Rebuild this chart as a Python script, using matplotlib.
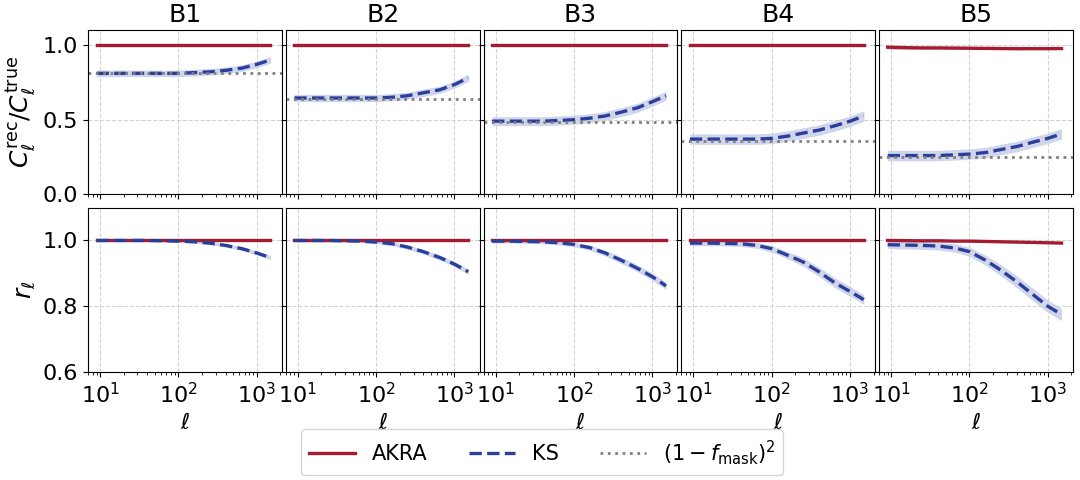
import numpy as np
import matplotlib.pyplot as plt

# multipole grid
ell = [9, 15, 25, 40, 65, 100, 160, 250, 400, 650, 1000, 1500]

bins = ["B1", "B2", "B3", "B4", "B5"]
f_mask_term = [0.81, 0.64, 0.485, 0.36, 0.25]

# C_rec / C_true, KS
ks_ratio = {
    "B1": [0.81, 0.81, 0.81, 0.81, 0.81, 0.81, 0.815, 0.82, 0.83, 0.845, 0.87, 0.90],
    "B2": [0.645, 0.645, 0.645, 0.645, 0.645, 0.645, 0.65, 0.66, 0.68, 0.70, 0.735, 0.78],
    "B3": [0.49, 0.49, 0.49, 0.49, 0.495, 0.50, 0.51, 0.525, 0.55, 0.58, 0.62, 0.66],
    "B4": [0.37, 0.37, 0.37, 0.37, 0.37, 0.375, 0.39, 0.41, 0.43, 0.46, 0.49, 0.525],
    "B5": [0.26, 0.26, 0.26, 0.26, 0.265, 0.27, 0.28, 0.30, 0.32, 0.35, 0.375, 0.405],
}
ks_ratio_err = {
    "B1": [0.022] * 12,
    "B2": [0.024] * 12,
    "B3": [0.03] * 12,
    "B4": [0.035] * 12,
    "B5": [0.035] * 12,
}
akra_ratio = {
    "B1": [1.0] * 12,
    "B2": [1.0] * 12,
    "B3": [1.0] * 12,
    "B4": [1.0] * 12,
    "B5": [0.985, 0.982, 0.98, 0.98, 0.979, 0.978, 0.977, 0.976, 0.975, 0.975, 0.975, 0.976],
}
akra_ratio_err = {
    "B1": [0.002] * 12,
    "B2": [0.002] * 12,
    "B3": [0.002] * 12,
    "B4": [0.002] * 12,
    "B5": [0.014, 0.012, 0.01, 0.009, 0.008, 0.008, 0.007, 0.007, 0.007, 0.006, 0.006, 0.006],
}

# cross-correlation coefficient r_ell
ks_r = {
    "B1": [1.0, 1.0, 1.0, 1.0, 0.999, 0.998, 0.996, 0.992, 0.985, 0.975, 0.962, 0.948],
    "B2": [1.0, 1.0, 1.0, 0.999, 0.998, 0.995, 0.99, 0.98, 0.966, 0.948, 0.928, 0.905],
    "B3": [0.998, 0.998, 0.997, 0.996, 0.993, 0.988, 0.978, 0.962, 0.94, 0.915, 0.89, 0.862],
    "B4": [0.992, 0.992, 0.991, 0.99, 0.985, 0.975, 0.955, 0.935, 0.905, 0.87, 0.845, 0.82],
    "B5": [0.987, 0.986, 0.985, 0.983, 0.977, 0.966, 0.94, 0.91, 0.875, 0.835, 0.80, 0.775],
}
ks_r_err = {
    "B1": [0.003, 0.003, 0.003, 0.003, 0.003, 0.004, 0.004, 0.005, 0.005, 0.006, 0.006, 0.006],
    "B2": [0.004, 0.004, 0.004, 0.004, 0.005, 0.005, 0.006, 0.007, 0.007, 0.008, 0.008, 0.008],
    "B3": [0.006, 0.006, 0.006, 0.006, 0.007, 0.007, 0.008, 0.009, 0.01, 0.011, 0.011, 0.011],
    "B4": [0.008, 0.008, 0.008, 0.008, 0.009, 0.01, 0.011, 0.013, 0.014, 0.015, 0.015, 0.015],
    "B5": [0.012, 0.012, 0.012, 0.012, 0.013, 0.014, 0.015, 0.017, 0.018, 0.019, 0.019, 0.019],
}
akra_r = {
    "B1": [1.0] * 12,
    "B2": [1.0] * 12,
    "B3": [1.0] * 12,
    "B4": [1.0] * 12,
    "B5": [1.0, 0.9995, 0.999, 0.999, 0.998, 0.998, 0.997, 0.996, 0.995, 0.994, 0.993, 0.992],
}

red = "#a51c30"
blue = "#2a3f9a"
band = "#aab4dd"

plt.rcParams['font.family'] = ['DejaVu Sans']
fig, axes = plt.subplots(2, 5, figsize=(10.8, 4.8), dpi=100, sharex=True)
fig.subplots_adjust(left=0.0815, right=0.9935, top=0.9375, bottom=0.225,
                    wspace=0.02, hspace=0.08)

x = np.array(ell)
for j, b in enumerate(bins):
    ax = axes[0, j]
    y = np.array(ks_ratio[b]); e = np.array(ks_ratio_err[b])
    ya = np.array(akra_ratio[b]); ea = np.array(akra_ratio_err[b])
    ax.fill_between(x, ya - ea, ya + ea, color=red, alpha=0.2, lw=0)
    ax.plot(x, ya, color=red, lw=2.4, label="AKRA")
    ax.fill_between(x, y - e, y + e, color=band, alpha=0.55, lw=0)
    ax.plot(x, y, color=blue, lw=2.4, ls="--", label="KS")
    ax.axhline(f_mask_term[j], color="gray", lw=2, ls=":", label=r"$(1 - f_{\rm mask})^2$")
    ax.set_ylim(0, 1.1)
    ax.set_yticks([0, 0.5, 1.0])
    ax.set_title(b, fontsize=18)

    ax = axes[1, j]
    y = np.array(ks_r[b]); e = np.array(ks_r_err[b])
    ax.fill_between(x, y - e, y + e, color=band, alpha=0.55, lw=0)
    ax.plot(x, akra_r[b], color=red, lw=2.4)
    ax.plot(x, y, color=blue, lw=2.4, ls="--")
    ax.set_ylim(0.6, 1.1)
    ax.set_yticks([0.6, 0.8, 1.0])
    ax.set_xlabel(r"$\ell$", fontsize=16)

for ax in axes.flat:
    ax.set_xscale("log")
    ax.set_xlim(7, 2100)
    ax.grid(True, ls="--", color="lightgray", lw=0.8)
    ax.tick_params(labelsize=16)
    if ax not in axes[:, 0]:
        ax.tick_params(labelleft=False)

axes[0, 0].set_ylabel(r"$C_\ell^{\rm rec}/C_\ell^{\rm true}$", fontsize=18)
axes[1, 0].set_ylabel(r"$r_\ell$", fontsize=18)

handles, labels = axes[0, 0].get_legend_handles_labels()
fig.legend(handles, labels, loc="center", bbox_to_anchor=(0.502, 0.058),
           ncol=3, fontsize=15, handlelength=2.2, columnspacing=2.0)

fig.savefig("out.png", dpi=100)
